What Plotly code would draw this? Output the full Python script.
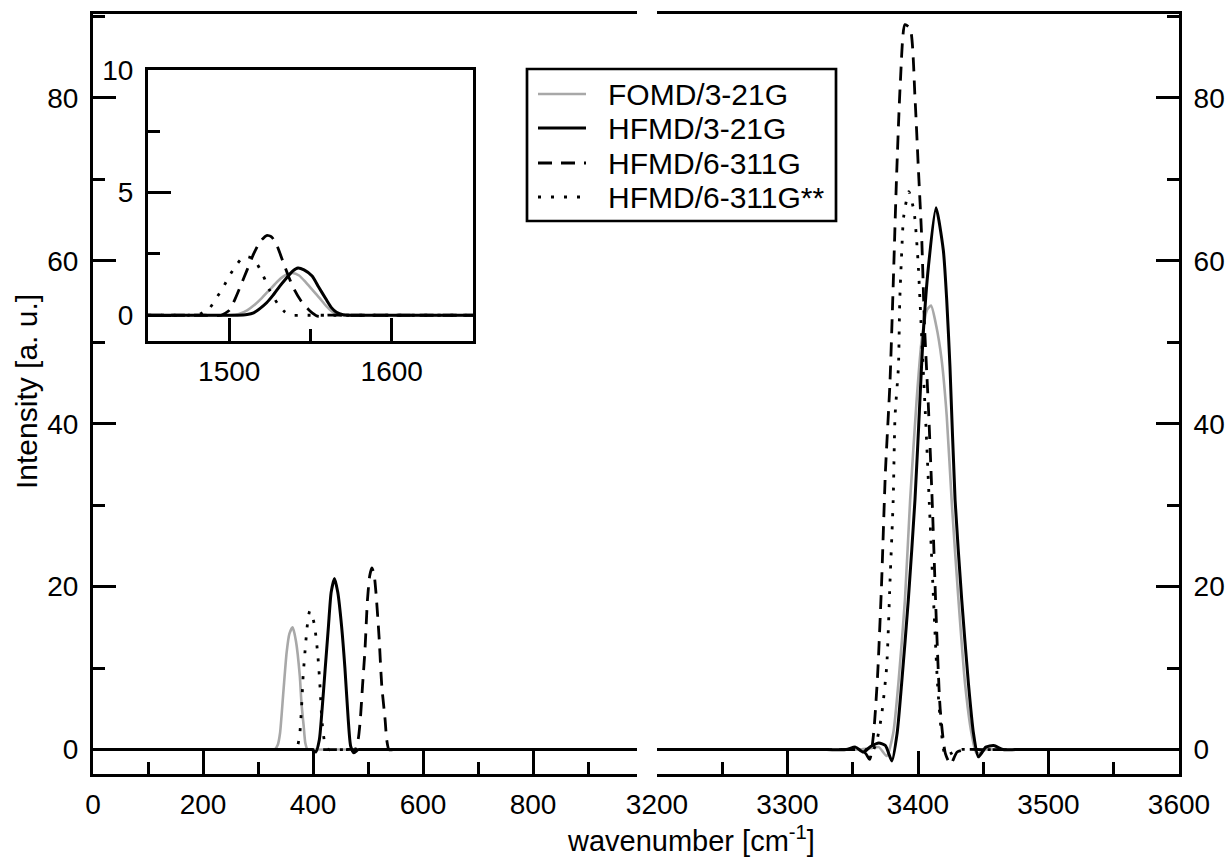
import plotly.graph_objects as go

# ---------------- data ----------------
series_names = ["FOMD/3-21G", "HFMD/3-21G", "HFMD/6-311G", "HFMD/6-311G**"]

# Left panel (0 - 990 cm-1)
fomd_lo_x = [0, 300, 320, 330, 336, 340, 346, 352, 357, 363, 369, 376, 379, 383, 386, 390, 400, 420, 989]
fomd_lo_y = [0, 0, 0, 0, 0.6, 2.0, 7.0, 11.9, 14.2, 15.0, 13.3, 9.0, 5.7, 2.9, 0.8, 0, 0, 0, 0]

hf321_lo_x = [0, 370, 390, 398, 405, 411.5, 416, 422, 428, 433, 439, 445, 452, 458, 464, 468.5, 474.5, 482, 490, 510, 989]
hf321_lo_y = [0, 0, 0, 0, -0.3, 1.2, 4.5, 9.8, 15.1, 19.3, 21.0, 19.3, 15.1, 10.0, 3.7, 0.4, -0.4, 0, 0, 0, 0]

hf6311_lo_x = [0, 440, 460, 470, 475, 482, 486, 490, 494.5, 499, 503, 507, 511, 514.5, 520, 525, 531, 534, 538, 545, 550, 556, 565, 580, 989]
hf6311_lo_y = [0, 0, 0, 0, -0.3, 1.2, 3.7, 7.8, 12.3, 18.4, 21.3, 22.3, 21.5, 19.2, 13.9, 7.8, 3.7, 1.2, 0, 0, 0.2, 0, 0, 0, 0]

hf6311ss_lo_x = [0, 340, 355, 365, 372, 376, 379, 382, 386, 390, 394, 398, 402, 406, 410, 413, 416, 419, 422, 428, 440, 455, 989]
hf6311ss_lo_y = [0, 0, 0, 0, 0.5, 2.0, 5.0, 9.0, 12.5, 15.5, 17.0, 16.5, 15.5, 13.5, 10.5, 7.4, 3.7, 1.8, 0.6, 0, 0, 0, 0]

# Right panel (3200 - 3600 cm-1)
fomd_hi_x = [3200, 3300, 3340, 3355, 3365, 3370, 3376, 3381, 3385, 3390, 3394, 3399, 3403, 3407, 3410, 3414, 3418,
             3422, 3426, 3431, 3436, 3441, 3445, 3452, 3460, 3480, 3600]
fomd_hi_y = [0, 0, 0, 0, 0.2, 0.3, -0.8, 2.0, 8.2, 18.4, 30.7, 43.0, 50.5, 54.0, 54.5, 52.0, 48.0,
             41.0, 30.0, 18.4, 8.2, 2.0, -0.5, 0, 0, 0, 0]

hf321_hi_x = [3200, 3300, 3330, 3345, 3352, 3358, 3364, 3370, 3375, 3380, 3384, 3387.5, 3392.6, 3397.7, 3401.5, 3404,
              3408, 3413.8, 3419.4, 3422, 3424.5, 3428.4, 3433.5, 3438.6, 3442.5, 3446.3, 3452, 3458, 3465, 3475, 3500, 3600]
hf321_hi_y = [0, 0, 0, 0, 0.3, -0.3, 0.4, 0.8, 0.5, -1.4, 2.0, 8.2, 18.4, 30.7, 43.0, 51.0,
              59.3, 66.5, 61.3, 55.2, 47.0, 30.7, 18.4, 8.2, 2.0, -0.9, 0.3, 0.5, 0, 0, 0, 0]

hf6311_hi_x = [3200, 3300, 3340, 3350, 3356, 3360, 3363, 3366, 3369, 3372, 3375, 3378.5, 3381, 3383.5, 3386.5, 3390,
               3394, 3397.7, 3400.2, 3402.8, 3405, 3408, 3411, 3414, 3417, 3421, 3425, 3430, 3437, 3450, 3600]
hf6311_hi_y = [0, 0, 0, 0, 0, -0.5, -1.2, 2.0, 9.0, 20.0, 34.0, 45.0, 57.0, 70.0, 82.0, 89.0,
               88.5, 80.0, 71.6, 63.0, 52.0, 42.0, 30.0, 16.0, 5.0, -0.5, -1.8, -0.3, 0, 0, 0]

hf6311ss_hi_x = [3200, 3300, 3340, 3352, 3360, 3364, 3368, 3372, 3376, 3378.5, 3381, 3382.4, 3385, 3386, 3387.5, 3389,
                 3393, 3397, 3400, 3403, 3406, 3409, 3412, 3415, 3418, 3421, 3425, 3432, 3445, 3600]
hf6311ss_hi_y = [0, 0, 0, 0, 0, -0.5, 0.8, 4.1, 10.2, 20.4, 30.7, 40.9, 47.0, 55.0, 61.0, 65.4,
                 68.5, 66.0, 60.0, 50.0, 40.0, 29.0, 18.0, 8.0, 2.0, -0.8, -0.5, 0, 0, 0]

# Inset (1450 - 1650 cm-1)
fomd_in_x = [1450, 1480, 1495, 1500, 1506, 1511, 1516, 1520, 1525, 1530, 1535, 1539, 1543, 1547, 1551, 1555.5, 1560,
             1564, 1568, 1573, 1580, 1600, 1650]
fomd_in_y = [0, 0, 0, 0, 0.05, 0.2, 0.45, 0.7, 1.05, 1.4, 1.65, 1.72, 1.62, 1.35, 1.05, 0.71, 0.35,
             0.12, 0.03, 0, 0, 0, 0]

hf321_in_x = [1450, 1480, 1495, 1505, 1511, 1515, 1519, 1523, 1527, 1531, 1535, 1539, 1542.3, 1546, 1551, 1555,
              1559.6, 1563, 1566, 1570, 1575, 1585, 1610, 1650]
hf321_in_y = [0, 0, 0, 0, 0.03, 0.1, 0.28, 0.51, 0.82, 1.18, 1.5, 1.8, 1.93, 1.85, 1.6, 1.15,
              0.65, 0.3, 0.12, 0.02, 0, 0, 0, 0]

hf6311_in_x = [1450, 1470, 1485, 1495, 1500, 1503.5, 1507, 1511, 1515, 1519, 1523, 1526, 1529, 1533, 1537, 1540,
               1544, 1547, 1551, 1555, 1560, 1570, 1600, 1650]
hf6311_in_y = [0, 0, 0, 0, 0.2, 0.65, 1.2, 1.85, 2.5, 3.0, 3.25, 3.2, 2.9, 2.2, 1.5, 1.05,
               0.6, 0.36, 0.1, -0.05, 0, 0, 0, 0]

hf6311ss_in_x = [1450, 1465, 1475, 1482, 1488, 1492, 1496, 1500, 1505, 1509, 1513, 1517, 1521, 1525, 1530, 1534,
                 1538, 1545, 1560, 1650]
hf6311ss_in_y = [0, 0, 0, 0.05, 0.3, 0.7, 1.1, 1.6, 2.1, 2.4, 2.35, 2.1, 1.6, 1.0, 0.45, 0.15,
                 0, 0, 0, 0]

main_x_ticks = [0, 200, 400, 600, 800]
right_x_ticks = [3200, 3300, 3400, 3500, 3600]
y_ticks = [0, 20, 40, 60, 80]
inset_x_ticks = [1500, 1600]
inset_y_ticks = [0, 5, 10]

# ---------------- styles ----------------
styles = [
    dict(color="#a8a8a8", width=2.6, dash="solid"),
    dict(color="black", width=3.0, dash="solid"),
    dict(color="black", width=2.8, dash="14px,9px"),
    dict(color="black", width=2.8, dash="3px,10px"),
]

fig = go.Figure()

lo = [(fomd_lo_x, fomd_lo_y), (hf321_lo_x, hf321_lo_y), (hf6311_lo_x, hf6311_lo_y), (hf6311ss_lo_x, hf6311ss_lo_y)]
hi = [(fomd_hi_x, fomd_hi_y), (hf321_hi_x, hf321_hi_y), (hf6311_hi_x, hf6311_hi_y), (hf6311ss_hi_x, hf6311ss_hi_y)]
ins = [(fomd_in_x, fomd_in_y), (hf321_in_x, hf321_in_y), (hf6311_in_x, hf6311_in_y), (hf6311ss_in_x, hf6311ss_in_y)]

order = [0, 3, 2, 1]
for i in order:
    st = styles[i]
    for (xs, ys), xa, ya in ((lo[i], "x", "y"), (hi[i], "x2", "y2"), (ins[i], "x3", "y3")):
        fig.add_trace(go.Scatter(x=xs, y=ys, mode="lines", name=series_names[i],
                                 line=dict(shape="spline", smoothing=0.6, **st),
                                 xaxis=xa, yaxis=ya, showlegend=False, hoverinfo="skip"))

FONT = "Liberation Sans, Arial, Helvetica, sans-serif"
FS = 28
tickfont = dict(family=FONT, size=FS, color="black")

# page geometry (the page body margin is removed in the post script)
W, H = 1227, 859
LEFT, RIGHT, TOP, BOTTOM = 93, 1179, 14, 774
L, T = LEFT, TOP
pw, ph = RIGHT - LEFT, BOTTOM - TOP
R = W - L - pw
B = H - T - ph

def px_x(p):
    return (p - LEFT) / pw

def px_y(p):
    return (BOTTOM - p) / ph

LW = 3
TW = 2.7

def minor(dtick, tick0):
    return dict(dtick=dtick, tick0=tick0, ticks="inside", ticklen=12, tickwidth=TW, tickcolor="black")

common_axis = dict(showline=True, linecolor="black", linewidth=LW, ticks="inside", ticklen=23, tickwidth=TW,
                   tickcolor="black", showgrid=False, zeroline=False, tickfont=tickfont, fixedrange=True)

# legend drawn as a framed key (box, line samples and labels)
leg_left, leg_right, leg_top, leg_bottom = 527, 836, 69, 221
leg_rows = [94, 128, 163, 197]
shapes = [dict(type="rect", xref="paper", yref="paper", x0=px_x(leg_left), x1=px_x(leg_right),
               y0=px_y(leg_bottom), y1=px_y(leg_top), line=dict(color="black", width=TW), fillcolor="white",
               layer="above")]
annotations = []
for i, ry in enumerate(leg_rows):
    st = styles[i]
    shapes.append(dict(type="line", xref="paper", yref="paper", x0=px_x(538), x1=px_x(586),
                       y0=px_y(ry), y1=px_y(ry), line=dict(color=st["color"], width=st["width"], dash=st["dash"]),
                       layer="above"))
    annotations.append(dict(text=series_names[i], xref="paper", yref="paper", x=px_x(606), y=px_y(ry),
                            xanchor="left", yanchor="middle", showarrow=False,
                            font=dict(family=FONT, size=30, color="black")))

annotations.append(dict(text="wavenumber [cm<sup>-1</sup>]", xref="paper", yref="paper", x=px_x(691), y=px_y(839),
                        xanchor="center", yanchor="middle", showarrow=False,
                        font=dict(family=FONT, size=29, color="black")))
annotations.append(dict(text="Intensity [a. u.]", xref="paper", yref="paper", x=px_x(26), y=px_y(392),
                        textangle=-90, xanchor="center", yanchor="middle", showarrow=False,
                        font=dict(family=FONT, size=30, color="black")))

fig.update_layout(
    width=W, height=H,
    margin=dict(l=L, r=R, t=T, b=B, autoexpand=False),
    paper_bgcolor="white", plot_bgcolor="white",
    showlegend=False,
    xaxis=dict(domain=[0, px_x(637)], range=[0, 989], anchor="y", tickvals=main_x_ticks, mirror=True,
               minor=minor(100, 0), ticklabelstandoff=3, **common_axis),
    yaxis=dict(domain=[0, 1], range=[-3, 90.3], anchor="x", tickvals=y_ticks,
               minor=minor(10, 0), ticklabelstandoff=6, **common_axis),
    xaxis2=dict(domain=[px_x(657), 1], range=[3200, 3600], anchor="y2", tickvals=right_x_ticks, mirror=True,
                minor=minor(50, 3200), ticklabelstandoff=3, **common_axis),
    yaxis2=dict(domain=[0, 1], range=[-3, 90.3], anchor="x2", side="right", tickvals=y_ticks,
                minor=minor(10, 0), ticklabelstandoff=6, **common_axis),
    xaxis3=dict(domain=[px_x(148), px_x(473)], range=[1450, 1650], anchor="y3", tickvals=inset_x_ticks, mirror=True,
                minor=minor(50, 1450), ticklabelstandoff=3, **common_axis),
    yaxis3=dict(domain=[px_y(341), px_y(70)], range=[-1.05, 10], anchor="x3", tickvals=inset_y_ticks, mirror=True,
                minor=minor(2.5, 0), ticklabelstandoff=6, **common_axis),
    shapes=shapes,
    annotations=annotations,
)

fig.write_html("out.html", config={"displayModeBar": False},
               post_script="document.body.style.margin='0';document.body.style.overflow='hidden';")
